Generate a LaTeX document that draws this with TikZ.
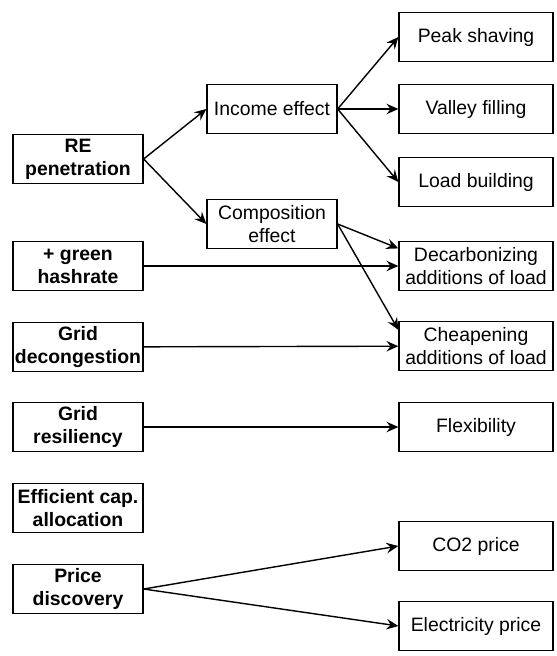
\documentclass[tikz,border=0pt]{standalone}
\usepackage{fontspec}
\setmainfont{Liberation Sans}
\usetikzlibrary{arrows.meta,calc}

\begin{document}
\begin{tikzpicture}[
    box/.style={draw, line width=0.9pt, align=center, inner sep=0pt,
        minimum height=1.225cm, font=\fontsize{13.8}{16.3}\selectfont},
    driver/.style={box, minimum width=3.25cm, font=\fontsize{13.8}{16.3}\selectfont\bfseries},
    effect/.style={box, minimum width=3.25cm},
    outcome/.style={box, minimum width=3.85cm},
    link/.style={-{Stealth[length=8.5pt,width=7.5pt,inset=3pt]}, line width=1pt}
]
    \useasboundingbox (0,0) rectangle (13.9,-16.4);

    % Drivers
    \node[driver] (repen) at (1.95,-3.975) {RE\\penetration};
    \node[driver] (green) at (1.95,-6.65) {+ green\\hashrate};
    \node[driver] (decong) at (1.95,-8.675) {Grid\\decongestion};
    \node[driver] (resil) at (1.95,-10.675) {Grid\\resiliency};
    \node[driver] (effcap) at (1.95,-12.7) {Efficient cap.\\allocation};
    \node[driver] (pricedisc) at (1.95,-14.725) {Price\\discovery};

    % Effects
    \node[effect] (income) at (6.8,-2.725) {Income effect};
    \node[effect] (compos) at (6.8,-5.6) {Composition\\effect};

    % Outcomes
    \node[outcome] (peak) at (11.9,-0.925) {Peak shaving};
    \node[outcome] (valley) at (11.9,-2.725) {Valley filling};
    \node[outcome] (loadb) at (11.9,-4.55) {Load building};
    \node[outcome] (decarb) at (11.9,-6.65) {Decarbonizing\\additions of load};
    \node[outcome] (cheap) at (11.9,-8.65) {Cheapening\\additions of load};
    \node[outcome] (flex) at (11.9,-10.675) {Flexibility};
    \node[outcome] (co2) at (11.9,-13.65) {CO2 price};
    \node[outcome] (elec) at (11.9,-15.65) {Electricity price};

    \coordinate (decarbin) at ($(decarb.north west)!0.15!(decarb.south west)$);
    \coordinate (cheapin) at ($(cheap.north west)!0.18!(cheap.south west)$);

    \path[link]
        % RE penetration
        (repen.east) edge (income.west)
        (repen.east) edge (compos.west)
        % Income effect
        (income.east) edge (peak.west)
        (income.east) edge (valley.west)
        (income.east) edge (loadb.west)
        % Composition effect
        (compos.east) edge (decarbin)
        (compos.east) edge (cheapin)
        % Other drivers
        (green) edge (decarb)
        (decong) edge (cheap)
        (resil) edge (flex)
        (pricedisc.east) edge (co2.west)
        (pricedisc.east) edge (elec.west);
\end{tikzpicture}
\end{document}
